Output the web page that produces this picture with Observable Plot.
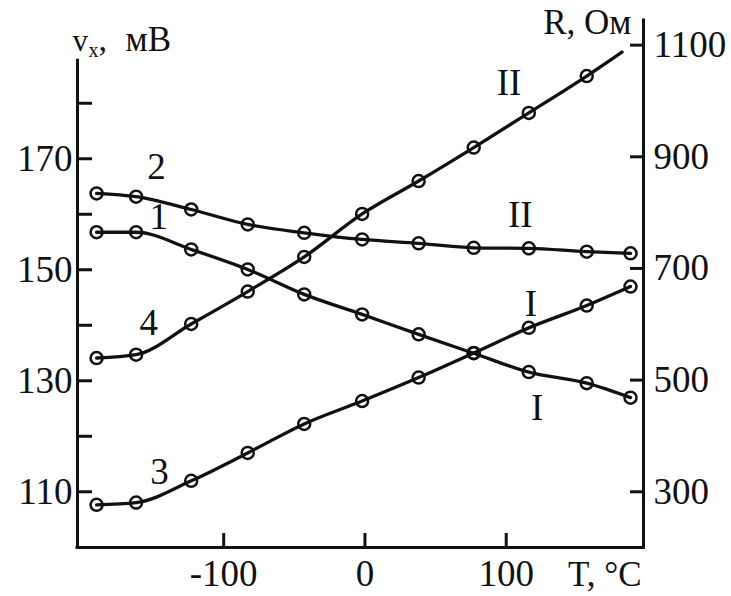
<!DOCTYPE html>
<html><head><meta charset="utf-8">
<script src="https://cdn.jsdelivr.net/npm/d3@7"></script>
<script src="https://cdn.jsdelivr.net/npm/@observablehq/plot@0.6"></script>
<style>html,body{margin:0;padding:0;background:#fff;}</style>
</head><body><div id="chart"></div>
<script>
// ---- data ----
const temps = [-190, -162, -123, -83, -43, -2, 38, 77, 116, 157, 188];      // T, °C
const v1 = [156.4, 156.4, 153.3, 149.7, 145.2, 141.6, 138.0, 134.6, 131.2, 129.2, 126.6]; // curve 1, mV
const v2 = [163.4, 162.8, 160.5, 157.8, 156.3, 155.1, 154.4, 153.6, 153.5, 152.9, 152.6]; // curve 2, mV
const r3 = [273, 277, 316, 366, 418, 459, 501, 545, 590, 630, 664];          // curve 3, Ohm
const r4 = [536, 542, 597, 655, 717, 794, 853, 913, 975, 1041];              // curve 4, Ohm
const r4TailT = [182];   // line of curve 4 continues past last marker
const r4TailR = [1084];
const vTicks = [110, 120, 130, 140, 150, 160, 170, 180];
const rTicks = [300, 500, 700, 900, 1100];
const tTicks = [-100, 0, 100];
const curveLabels = ["2", "1", "4", "3", "II", "II", "I", "I"];
const labelT = [-147.5, -146, -153, -145.5, 102, 110, 117.5, 122];
const labelV = [168.2, 159.2, 140.1, 113.1, 183.2, 159.4, 143.4, 124.7];

const xDom = [-203.5, 197.2];
const yDom = [99.6, 194.55];
const leftTop = 187.3;
const k = 0.10059;
const rToV = r => 110 + (r - 300) * k;
const vToR = v => 300 + (v - 110) / k;

const lineRows = [], dotRows = [];
temps.forEach((t, i) => {
  lineRows.push({T: t, v: v1[i], c: "1"}); dotRows.push({T: t, v: v1[i]});
  lineRows.push({T: t, v: v2[i], c: "2"}); dotRows.push({T: t, v: v2[i]});
  lineRows.push({T: t, v: rToV(r3[i]), c: "3"}); dotRows.push({T: t, v: rToV(r3[i])});
  if (i < r4.length) { lineRows.push({T: t, v: rToV(r4[i]), c: "4"}); dotRows.push({T: t, v: rToV(r4[i])}); }
});
r4TailT.forEach((t, i) => lineRows.push({T: t, v: rToV(r4TailR[i]), c: "4"}));
const labelRows = curveLabels.map((s, i) => ({s, T: labelT[i], v: labelV[i]}));

const ink = "#111";
const font = "Liberation Serif, Times New Roman, serif";

const chart = Plot.plot({
  width: 731, height: 596,
  marginLeft: 77, marginRight: 88, marginTop: 20, marginBottom: 49,
  style: {fontFamily: font, fontSize: "37px", color: ink, background: "#fff"},
  x: {domain: xDom},
  y: {domain: yDom},
  marks: [
    Plot.line(lineRows, {x: "T", y: "v", z: "c", curve: "monotone-x", stroke: ink, strokeWidth: 3.3}),
    Plot.dot(dotRows, {x: "T", y: "v", r: 6, stroke: ink, strokeWidth: 2.5, fill: "none"}),
    Plot.text(labelRows, {x: "T", y: "v", text: "s", fontSize: 37, fontFamily: font, fill: ink}),
    Plot.ruleX([xDom[0]], {y1: yDom[0], y2: leftTop, stroke: ink, strokeWidth: 3, strokeLinecap: "square"}),
    Plot.ruleX([xDom[1]], {y1: yDom[0], y2: yDom[1], stroke: ink, strokeWidth: 3, strokeLinecap: "square"}),
    Plot.ruleY([yDom[0]], {x1: xDom[0], x2: xDom[1], stroke: ink, strokeWidth: 3, strokeLinecap: "square"}),
    Plot.axisY({anchor: "left", ticks: vTicks, tickFormat: d => (d % 20 === 10 ? String(d) : ""),
      tickSize: -15, tickPadding: 20, strokeWidth: 3, fontSize: 37, fontFamily: font, dy: 2, label: null}),
    Plot.axisY({anchor: "right", ticks: rTicks.map(rToV), tickFormat: d => String(Math.round(vToR(d))),
      tickSize: -14, tickPadding: 24, strokeWidth: 3, fontSize: 37, fontFamily: font, dy: 2, label: null}),
    Plot.axisX({anchor: "bottom", ticks: tTicks, tickFormat: d => String(d),
      tickSize: -14, tickPadding: 26, strokeWidth: 3, fontSize: 37, fontFamily: font, label: null}),
    // axis titles
    Plot.text(["v"], {frameAnchor: "top-left", textAnchor: "start", lineAnchor: "bottom", dx: -5, dy: 30, fontSize: 31, fontFamily: font, fill: ink}),
    Plot.text(["x"], {frameAnchor: "top-left", textAnchor: "start", lineAnchor: "bottom", dx: 11, dy: 36, fontSize: 20, fontFamily: font, fill: ink}),
    Plot.text([","], {frameAnchor: "top-left", textAnchor: "start", lineAnchor: "bottom", dx: 21, dy: 30, fontSize: 34, fontFamily: font, fill: ink}),
    Plot.text(["мВ"], {frameAnchor: "top-left", textAnchor: "start", lineAnchor: "bottom", dx: 48, dy: 30, fontSize: 35, fontFamily: font, fill: ink}),
    Plot.text(["R, Ом"], {frameAnchor: "top-right", textAnchor: "end", lineAnchor: "bottom", dx: -12, dy: 13, fontSize: 35, fontFamily: font, fill: ink}),
    Plot.text(["T, °C"], {frameAnchor: "bottom-right", textAnchor: "end", lineAnchor: "bottom", dx: -2, dy: 38, fontSize: 35, fontFamily: font, fill: ink})
  ]
});
document.getElementById("chart").appendChild(chart);
</script>
</body></html>
